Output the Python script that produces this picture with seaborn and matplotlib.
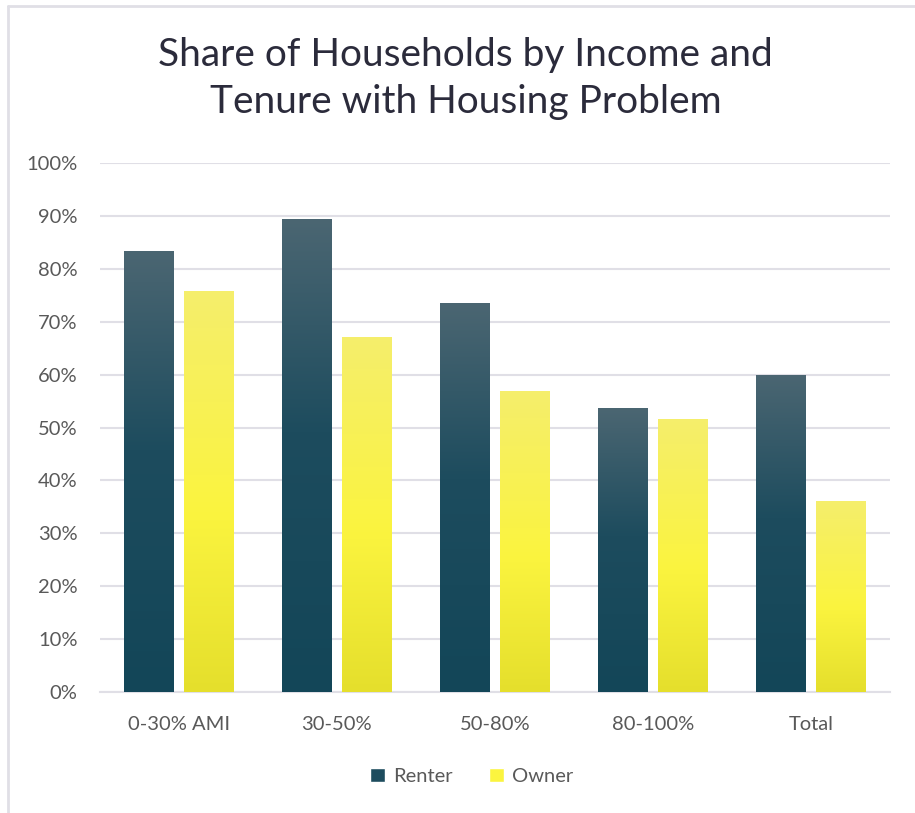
import matplotlib
matplotlib.use('Agg')
import matplotlib.pyplot as plt
import seaborn as sns
import pandas as pd
import numpy as np
from matplotlib.colors import LinearSegmentedColormap
from matplotlib.patches import Patch
from matplotlib.lines import Line2D

# data
categories = ['0-30% AMI', '30-50%', '50-80%', '80-100%', 'Total']
renter = [0.833, 0.895, 0.735, 0.536, 0.600]
owner = [0.758, 0.672, 0.569, 0.517, 0.361]
tenure = ['Renter', 'Owner']

df = pd.DataFrame({
    'group': categories * 2,
    'tenure': ['Renter'] * len(categories) + ['Owner'] * len(categories),
    'share': renter + owner,
})

sns.set_theme(style='white')
plt.rcParams['font.family'] = ['Lato', 'DejaVu Sans']

renter_cmap = LinearSegmentedColormap.from_list(
    'renter', [(0, '#4b6672'), (0.45, '#1d4c5e'), (1, '#134658')])
owner_cmap = LinearSegmentedColormap.from_list(
    'owner', [(0, '#f5ee6c'), (0.55, '#fbf43f'), (1, '#e5df2c')])

fig = plt.figure(figsize=(9.15, 8.13), dpi=100)
ax = fig.add_axes([0.109, 0.1488, 0.864, 0.6507])

sns.barplot(data=df, x='group', y='share', hue='tenure', order=categories,
            hue_order=tenure, palette=['#1d4c5e', '#fbf43f'], width=0.76,
            gap=0.17, ax=ax, legend=False, zorder=3)

# gradient fill for each bar
grad = np.linspace(0, 1, 256).reshape(-1, 1)
bars = [p for p in ax.patches]
for i, p in enumerate(bars):
    cmap = renter_cmap if i < len(categories) else owner_cmap
    x0, y0 = p.get_x(), p.get_y()
    w, h = p.get_width(), p.get_height()
    im = ax.imshow(grad, cmap=cmap, aspect='auto', extent=[x0, x0 + w, y0, y0 + h],
                   origin='upper', zorder=3, interpolation='bicubic')
    im.set_clip_path(p)
    p.set_facecolor('none')
    p.set_edgecolor('none')
ax.set_xlim(-0.5, len(categories) - 0.5)
ax.set_ylim(0, 1.0)

ax.set_yticks(np.arange(0, 1.01, 0.1))
ax.set_yticklabels([f'{int(round(v * 100))}%' for v in np.arange(0, 1.01, 0.1)])
ax.yaxis.grid(True, color='#e0dfe6', linewidth=1.5, zorder=0)
ax.set_axisbelow(True)
for s in ['top', 'right', 'left']:
    ax.spines[s].set_visible(False)
ax.spines['bottom'].set_color('#e0dfe6')
ax.spines['bottom'].set_linewidth(1.5)
ax.tick_params(axis='both', length=0, labelsize=14.5, labelcolor='#595959')
ax.tick_params(axis='y', pad=16)
ax.tick_params(axis='x', pad=17)
ax.set_xlabel('')
ax.set_ylabel('')

fig.text(0.509, 0.903, 'Share of Households by Income and\nTenure with Housing Problem',
         ha='center', va='center', fontsize=28, color='#2b2b3b', linespacing=1.38)

handles = [Patch(facecolor='#1d4c5e', label='Renter'),
           Patch(facecolor='#fbf43f', label='Owner')]
fig.legend(handles=handles, loc='center', bbox_to_anchor=(0.515, 0.045), ncol=2,
           frameon=False, fontsize=14.5, labelcolor='#595959', handlelength=0.75,
           handleheight=0.75, handletextpad=0.4, columnspacing=1.8)

# chart area border
fig.add_artist(Line2D([8 / 915, 1], [1 - 6 / 813, 1 - 6 / 813], color='#e0dfe6', lw=2))
fig.add_artist(Line2D([8 / 915, 8 / 915], [0, 1 - 6 / 813], color='#e0dfe6', lw=2))

fig.savefig('out.png', dpi=100)
